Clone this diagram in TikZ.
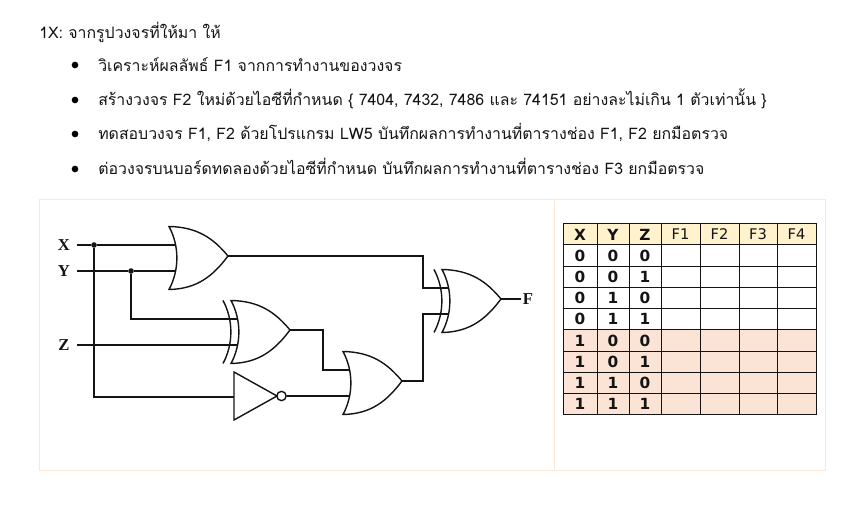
\documentclass[tikz,border=0pt]{standalone}
\usepackage{fontspec}
\usetikzlibrary{positioning, calc}
\setmainfont{Liberation Serif}
\newfontfamily\thaifont[Script=Thai]{Loma}
\newfontfamily\tablefont{DejaVu Sans}
\definecolor{panelline}{RGB}{252,230,214}
\definecolor{headfill}{RGB}{255,242,204}
\definecolor{rowfill}{RGB}{251,228,213}
\definecolor{ink}{RGB}{20,20,20}
\tikzset{
  wire/.style={draw=ink, line width=1.05pt},
  dotnode/.style={circle, fill=ink, inner sep=0pt, minimum size=4.2pt},
  inlabel/.style={font=\bfseries\fontsize{12.5}{13}\selectfont, text=ink, inner sep=0pt, minimum width=19.5pt},
  bodytext/.style={anchor=base west, inner sep=0pt, font=\thaifont\fontsize{11.9}{14}\selectfont, text=ink},
  bulletnode/.style={circle, fill=black, inner sep=0pt, minimum size=5pt},
  cell/.style={draw=ink, fill=#1, line width=0.75pt, inner sep=0pt, minimum height=15.94pt,
               font=\tablefont\fontsize{11}{12}\selectfont, text=ink},
  bitcell/.style={cell=#1, font=\tablefont\bfseries\fontsize{11.5}{12}\selectfont},
  orgate/.pic={
    \draw[wire] (0,-31.5) .. controls (28,-31) and (44,-20) .. (59,-2)
      .. controls (44,18) and (28,31) .. (0,31.5)
      .. controls (10.5,12) and (10.5,-12) .. cycle;
    \coordinate (-in1) at (7,-13);
    \coordinate (-in2) at (7,13);
    \coordinate (-out) at (59,-2);
  },
  xorgate/.pic={
    \draw[wire] (0,-31.5) .. controls (28,-31) and (44,-20) .. (59,-2)
      .. controls (44,18) and (28,31) .. (0,31.5)
      .. controls (10.5,12) and (10.5,-12) .. cycle;
    \draw[wire] (-8,31.5) .. controls (2.5,12) and (2.5,-12) .. (-8,-31.5);
    \coordinate (-in1) at (7,-13);
    \coordinate (-in2) at (7,13);
    \coordinate (-out) at (59,-2);
  },
  notgate/.pic={
    \draw[wire] (0,-24) -- (43,0) -- (0,24) -- cycle;
    \node[draw=ink, line width=1.05pt, circle, inner sep=0pt, minimum size=7pt] (-bub) at (47.5,0) {};
    \coordinate (-in) at (0,1);
    \coordinate (-out) at (-bub.east);
  },
}
\begin{document}
\begin{tikzpicture}[x=0.75pt, y=-0.75pt]
  \useasboundingbox (0,0) rectangle (864,505);
  % task text
  \node[bodytext] (title) at (39,39) {1X: จากรูปวงจรที่ให้มา ให้};
  \node[bulletnode] (bulA) at (75,65) {};
  \node[bulletnode] (bulB) at (75,100) {};
  \node[bulletnode] (bulC) at (75,134) {};
  \node[bulletnode] (bulD) at (75,169) {};
  \node[bodytext] (lineA) at (98,72) {วิเคราะห์ผลลัพธ์ F1 จากการทำงานของวงจร};
  \node[bodytext] (lineB) at (98,106) {สร้างวงจร F2 ใหม่ด้วยไอซีที่กำหนด \{ 7404, 7432, 7486 และ 74151 อย่างละไม่เกิน 1 ตัวเท่านั้น \}};
  \node[bodytext] (lineC) at (98,140) {ทดสอบวงจร F1, F2 ด้วยโปรแกรม LW5 บันทึกผลการทำงานที่ตารางช่อง F1, F2 ยกมือตรวจ};
  \node[bodytext] (lineD) at (98,175) {ต่อวงจรบนบอร์ดทดลองด้วยไอซีที่กำหนด บันทึกผลการทำงานที่ตารางช่อง F3 ยกมือตรวจ};
  % panel
  \draw[panelline, line width=0.75pt] (39,200) rectangle (825,471);
  \draw[panelline, line width=0.75pt] (554,200) -- (554,471);
  % gates
  \pic (orA) at (169,258) {orgate};
  \pic (xorA) at (231,332) {xorgate};
  \pic (orB) at (343,383) {orgate};
  \pic (xorB) at (442,301) {xorgate};
  \pic (invA) at (234,396) {notgate};
  % inputs
  \node[inlabel] (lblX) at (64,245) {X};
  \node[inlabel] (lblY) at (64,271) {Y};
  \node[inlabel] (lblZ) at (64,345) {Z};
  \node[dotnode] (dotX) at (94,245) {};
  \node[dotnode] (dotY) at (131,271) {};
  \node[inlabel, minimum width=10.5pt] (lblF) at (528,299) {F};
  \coordinate (busA) at (423,288);
  \coordinate (busB) at (423,314);
  \coordinate (busC) at (323,370);
  % wires
  \draw[wire] (lblX.east) -- (dotX) -- (orA-in1);
  \draw[wire] (lblY.east) -- (dotY) -- (orA-in2);
  \draw[wire] (lblZ.east) -- (xorA-in2);
  \draw[wire] (dotY) |- (xorA-in1);
  \draw[wire] (dotX) |- (invA-in);
  \draw[wire] (orA-out) -| (busA) -- (xorB-in1);
  \draw[wire] (orB-out) -| (busB) -- (xorB-in2);
  \draw[wire] (xorA-out) -| (busC) -- (orB-in1);
  \draw[wire] (invA-out) -- (orB-in2);
  \draw[wire] (xorB-out) -- (lblF.west);
  % table
  \foreach \colx/\colw/\colname in {680.5/39/F1, 719.5/39/F2, 758/38/F3, 796.5/39/F4}{
    \node[cell=headfill, minimum width=\colw*0.75pt] (head\colname) at (\colx,234.5) {\colname};
  }
  \node[bitcell=headfill, minimum width=25.5pt] (headX) at (580,234.5) {X};
  \node[bitcell=headfill, minimum width=24pt] (headY) at (613,234.5) {Y};
  \node[bitcell=headfill, minimum width=24pt] (headZ) at (645,234.5) {Z};
  \foreach \rowi/\xv/\yv/\zv/\rowcol in {0/0/0/0/white, 1/0/0/1/white, 2/0/1/0/white, 3/0/1/1/white,
                                         4/1/0/0/rowfill, 5/1/0/1/rowfill, 6/1/1/0/rowfill, 7/1/1/1/rowfill}{
    \pgfmathsetmacro\rowy{255.6+21.25*\rowi}
    \node[bitcell=\rowcol, minimum width=25.5pt] (x\rowi) at (580,\rowy) {\xv};
    \node[bitcell=\rowcol, minimum width=24pt] (y\rowi) at (613,\rowy) {\yv};
    \node[bitcell=\rowcol, minimum width=24pt] (z\rowi) at (645,\rowy) {\zv};
    \foreach \colx/\colw/\colname in {680.5/39/a, 719.5/39/b, 758/38/c, 796.5/39/d}{
      \node[cell=\rowcol, minimum width=\colw*0.75pt] (\colname\rowi) at (\colx,\rowy) {};
    }
  }
\end{tikzpicture}
\end{document}
